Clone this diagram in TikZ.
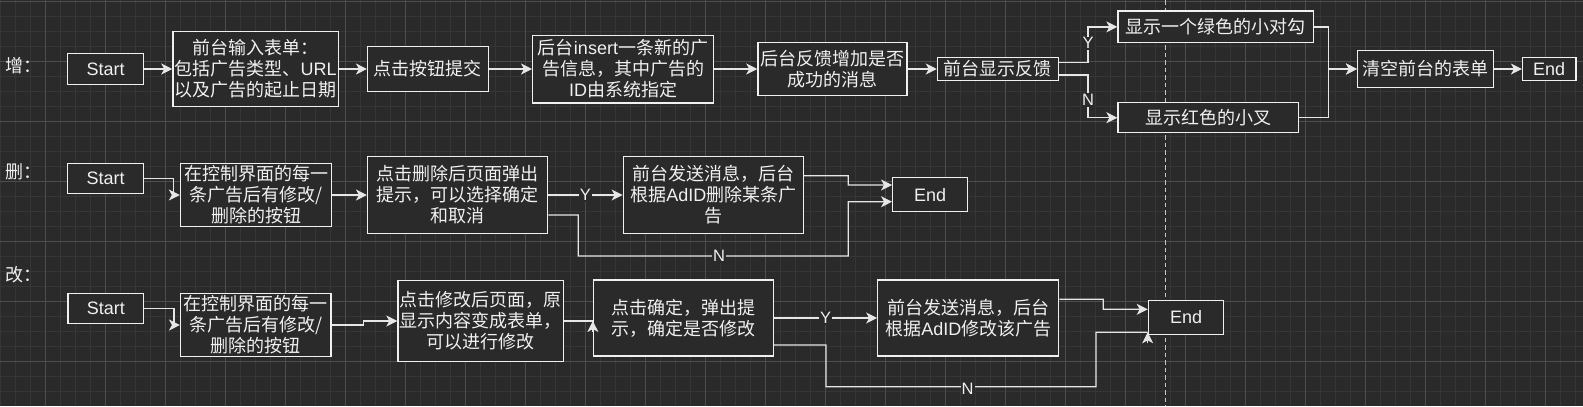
\documentclass[tikz,border=0pt]{standalone}
\usepackage{fontspec}
\setmainfont{Noto Sans CJK SC}
\newfontfamily\latf{Liberation Sans}
\newcommand\LAT[1]{{\latf #1}}
\usetikzlibrary{arrows.meta}
\definecolor{bg}{HTML}{2A2A2A}
\definecolor{gridminor}{HTML}{363636}
\definecolor{gridmajor}{HTML}{4D4D4D}
\definecolor{boxc}{HTML}{F0F0F0}
\definecolor{linec}{HTML}{E6E6E6}
\definecolor{txt}{HTML}{F0F0F0}
\definecolor{dashc}{HTML}{C8C8C8}
\begin{document}
\begin{tikzpicture}[x=1bp,y=-1bp,
  box/.style={draw=boxc, line width=1.3bp, fill=bg, text=txt, inner sep=0pt, align=center,
              font=\fontsize{18bp}{21bp}\selectfont},
  arr/.style={draw=linec, line width=1.3bp, -{Stealth[length=11bp,width=11bp,inset=3bp]}},
  ln/.style={draw=linec, line width=1.3bp},
  lbl/.style={fill=bg, text=txt, inner sep=1bp, font=\fontsize{16.5bp}{18bp}\selectfont\latf},
  rowlbl/.style={text=txt, inner sep=0pt, anchor=west, font=\fontsize{18bp}{21bp}\selectfont}]
\useasboundingbox (0,0) rectangle (1583,406);
\fill[bg] (0,0) rectangle (1583,406);
% grid
\foreach \x in {0,15,...,1583} \draw[gridminor, line width=0.8bp] (\x,0) -- (\x,406);
\foreach \y in {1.7,16.7,...,406} \draw[gridminor, line width=0.8bp] (0,\y) -- (1583,\y);
\foreach \x in {45,105,...,1583} \draw[gridmajor, line width=1bp] (\x,0) -- (\x,406);
\foreach \y in {1.7,61.7,...,406} \draw[gridmajor, line width=1bp] (0,\y) -- (1583,\y);
% dashed separator
\draw[dashc, line width=1.2bp, dash pattern=on 4.5bp off 3bp] (1165.7,0) -- (1165.7,406);

% ---------- row 1 ----------
\node[rowlbl] (L1) at (5,66) {增：};
\node[box, minimum width=76bp, minimum height=31bp] (S1) at (105.6,69) {\latf Start};
\node[box, minimum width=165.6bp, minimum height=75bp] (B2) at (255.7,69) {前台输入表单：\\包括广告类型、\LAT{URL}\\以及广告的起止日期};
\node[box, minimum width=120.6bp, minimum height=45bp] (B3) at (427.9,69) {点击按钮提交};
\node[box, minimum width=180.7bp, minimum height=67.7bp] (B4) at (623,69) {后台\LAT{insert}一条新的广\\告信息，其中广告的\\\LAT{ID}由系统指定};
\node[box, minimum width=149bp, minimum height=53bp] (B5) at (832.4,69) {后台反馈增加是否\\成功的消息};
\node[box, minimum width=121bp, minimum height=23bp] (B6) at (997.9,69) {前台显示反馈};
\node[box, minimum width=195.4bp, minimum height=31.7bp] (B7) at (1215.7,26.9) {显示一个绿色的小对勾};
\node[box, minimum width=180.8bp, minimum height=30bp] (B8) at (1208.4,117.7) {显示红色的小叉};
\node[box, minimum width=136bp, minimum height=37bp] (B9) at (1425.6,69) {清空前台的表单};
\node[box, minimum width=53.3bp, minimum height=23bp] (E1) at (1549.2,69) {\latf End};

\coordinate (b1) at (1088,0);
\coordinate (m1) at (1328.7,0);
\draw[arr] (S1.east) -- (B2.west);
\draw[arr] (B2.east) -- (B3.west);
\draw[arr] (B3.east) -- (B4.west);
\draw[arr] (B4.east) -- (B5.west);
\draw[arr] (B5.east) -- (B6.west);
\draw[arr] ([yshift=6.5bp]B6.east) -| (b1 |- B7.west) -- (B7.west);
\draw[arr] ([yshift=-6bp]B6.east) -| (b1 |- B8.west) -- (B8.west);
\draw[arr] (B7.east) -| (m1 |- B9.west) -- (B9.west);
\draw[arr] (B8.east) -| (m1 |- B9.west) -- (B9.west);
\draw[arr] (B9.east) -- (E1.west);
\node[lbl] (Y1) at (1088,43.3) {Y};
\node[lbl] (N1) at (1088,100) {N};

% ---------- row 2 ----------
\node[rowlbl] (L2) at (5,171.7) {删：};
\node[box, minimum width=76bp, minimum height=30bp] (S2) at (105.7,178.3) {\latf Start};
\node[box, minimum width=151bp, minimum height=63.4bp] (R2b) at (256,195) {在控制界面的每一\\条广告后有修改/\\删除的按钮};
\node[box, minimum width=180bp, minimum height=76.6bp] (R2c) at (457.6,195) {点击删除后页面弹出\\提示，可以选择确定\\和取消};
\node[box, minimum width=180bp, minimum height=76.6bp] (R2d) at (713.3,195) {前台发送消息，后台\\根据\LAT{AdID}删除某条广\\告};
\node[box, minimum width=75bp, minimum height=34bp] (E2) at (930.2,194.7) {\latf End};

\coordinate (c21) at (173.6,195);
\coordinate (n2a) at (578.3,256);
\coordinate (n2b) at (848.3,201.7);
\coordinate (d2) at (848.3,185);
\draw[arr] (S2.east) -| (c21) -- (R2b.west);
\draw[arr] (R2b.east) -- (R2c.west);
\draw[arr] (R2c.east) -- node[lbl] (Y2) {Y} (R2d.west);
\draw[arr] ([yshift=-20bp]R2c.east) -| (n2a) -| (n2b) -- ([yshift=-7bp]E2.west);
\draw[arr] ([yshift=19.3bp]R2d.east) -| (d2) -- ([yshift=9.7bp]E2.west);
\node[lbl] (N2) at (719,256) {N};

% ---------- row 3 ----------
\node[rowlbl] (L3) at (5,275) {改：};
\node[box, minimum width=75.4bp, minimum height=30bp] (S3) at (105.8,308.3) {\latf Start};
\node[box, minimum width=150.4bp, minimum height=63.4bp] (R3b) at (255.8,325) {在控制界面的每一\\条广告后有修改/\\删除的按钮};
\node[box, minimum width=165.3bp, minimum height=80.7bp] (R3c) at (480.6,321) {点击修改后页面，原\\显示内容变成表单，\\可以进行修改};
\node[box, minimum width=180bp, minimum height=76bp] (R3d) at (683.5,318) {点击确定，弹出提\\示，确定是否修改};
\node[box, minimum width=181bp, minimum height=76bp] (R3e) at (968.3,318) {前台发送消息，后台\\根据\LAT{AdID}修改该广告};
\node[box, minimum width=75.3bp, minimum height=34bp] (E3) at (1186,317.4) {\latf End};

\coordinate (c31) at (174,325);
\coordinate (c32) at (363.6,321);
\coordinate (c33) at (R3d.west |- R3c.east);
\coordinate (n3a) at (825.9,386.7);
\coordinate (n3b) at (1096,332.3);
\coordinate (c34) at ([yshift=-14.9bp]E3.west);
\coordinate (d3) at (1103.3,309.3);
\draw[arr] (S3.east) -| (c31) -- (R3b.west);
\draw[arr] (R3b.east) -| (c32) -- (R3c.west);
\draw[ln] (R3c.east) -- (c33);
\draw[arr] ([yshift=-11bp]c33) -- (c33);
\draw[arr] (R3d.east) -- node[lbl] (Y3) {Y} (R3e.west);
\draw[ln] ([yshift=-27bp]R3d.east) -| (n3a) -| (n3b) -- (c34);
\draw[arr] ([yshift=-11bp]c34) -- (c34);
\draw[arr] ([yshift=18.7bp]R3e.east) -| (d3) -- ([yshift=8.1bp]E3.west);
\node[lbl] (N3) at (967.6,389) {N};
\end{tikzpicture}
\end{document}
